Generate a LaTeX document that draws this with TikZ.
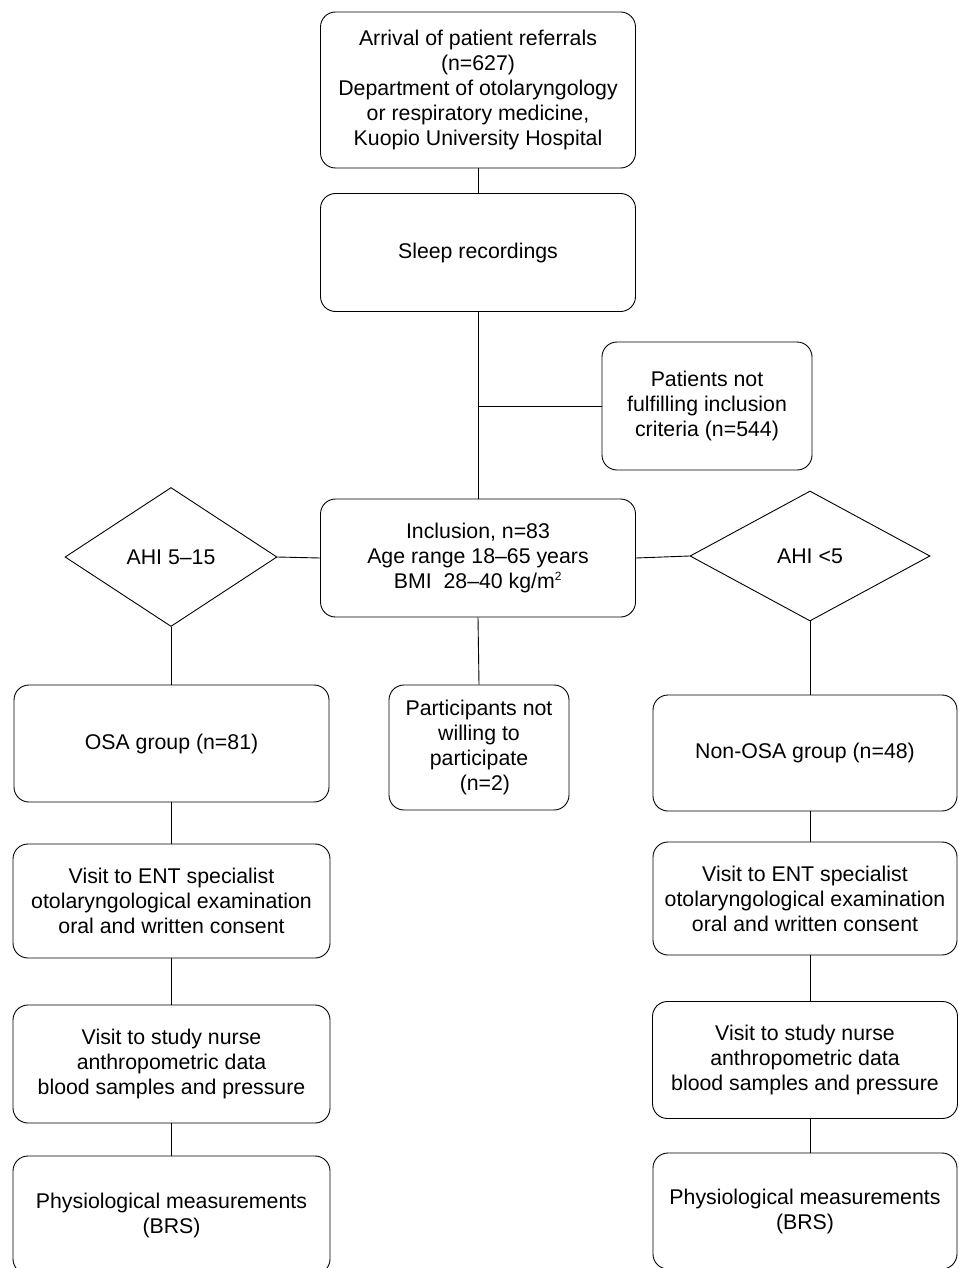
\documentclass[tikz,border=0pt]{standalone}
\usepackage{fontspec}
\setmainfont{Liberation Sans}
\usetikzlibrary{shapes.geometric}
\begin{document}
\begin{tikzpicture}[x=1pt,y=-1pt,
  every node/.style={font=\fontsize{21.3}{25}\selectfont, align=center, inner sep=0pt},
  box/.style={draw, rounded corners=15pt, line width=0.9pt},
  dia/.style={draw, diamond, line width=0.9pt},
  conn/.style={draw, line width=0.9pt}]
\useasboundingbox (0,0) rectangle (958,1268);
\clip (0,0) rectangle (958,1268);
\node[box, minimum width=315pt, minimum height=156pt] (top) at (478,90) {Arrival of patient referrals\\(n=627)\\Department of otolaryngology\\or respiratory medicine,\\Kuopio University Hospital};
\node[box, minimum width=315pt, minimum height=118pt] (sleep) at (478,252.5) {Sleep recordings};
\node[box, minimum width=210pt, minimum height=128pt] (excl) at (707,406) {Patients not\\fulfilling inclusion\\criteria (n=544)};
\node[box, minimum width=315pt, minimum height=118pt] (incl) at (478,558) {Inclusion, n=83\\Age range 18--65 years\\BMI\ \ 28--40 kg/m\textsuperscript{\fontsize{12}{12}\selectfont 2}};
\node[dia, minimum width=212pt, minimum height=139pt] (dL) at (171,557) {AHI 5--15};
\node[dia, minimum width=240pt, minimum height=130pt] (dR) at (810,556) {AHI <5};
\node[box, minimum width=315pt, minimum height=117pt] (osa) at (171.5,743.5) {OSA group (n=81)};
\node[box, minimum width=317pt, minimum height=114pt] (entL) at (171.5,901) {Visit to ENT specialist\\otolaryngological examination\\oral and written consent};
\node[box, minimum width=317pt, minimum height=118pt] (nurseL) at (171.5,1064) {Visit to study nurse\\anthropometric data\\blood samples and pressure};
\node[box, minimum width=317pt, minimum height=118pt] (physL) at (171.5,1215) {Physiological measurements\\(BRS)};
\node[box, minimum width=180pt, minimum height=125pt] (part) at (479,747.5) {Participants not\\willing to\\participate\\\ \ (n=2)};
\node[box, minimum width=304pt, minimum height=116pt] (nonosa) at (805,753) {Non-OSA group (n=48)};
\node[box, minimum width=304pt, minimum height=113pt] (entR) at (805,898.5) {Visit to ENT specialist\\otolaryngological examination\\oral and written consent};
\node[box, minimum width=305pt, minimum height=117pt] (nurseR) at (805,1060) {Visit to study nurse\\anthropometric data\\blood samples and pressure};
\node[box, minimum width=304pt, minimum height=116pt] (physR) at (805,1211) {Physiological measurements\\(BRS)};
\coordinate (br) at (sleep.south |- excl.west);
\draw[conn] (top.south) -- (sleep.north);
\draw[conn] (sleep.south) -- (incl.north);
\draw[conn] (br) -- (excl.west);
\draw[conn] (incl.west) -- (dL.east);
\draw[conn] (incl.east) -- (dR.west);
\draw[conn] (incl.south) -- (part.north);
\draw[conn] (dL.south) -- (dL.south |- osa.north);
\draw[conn] (dR.south) -- (dR.south |- nonosa.north);
\draw[conn] (osa.south) -- (entL.north);
\draw[conn] (entL.south) -- (nurseL.north);
\draw[conn] (nurseL.south) -- (physL.north);
\draw[conn] (dR.south |- nonosa.south) -- (dR.south |- entR.north);
\draw[conn] (dR.south |- entR.south) -- (dR.south |- nurseR.north);
\draw[conn] (dR.south |- nurseR.south) -- (dR.south |- physR.north);
\end{tikzpicture}
\end{document}
